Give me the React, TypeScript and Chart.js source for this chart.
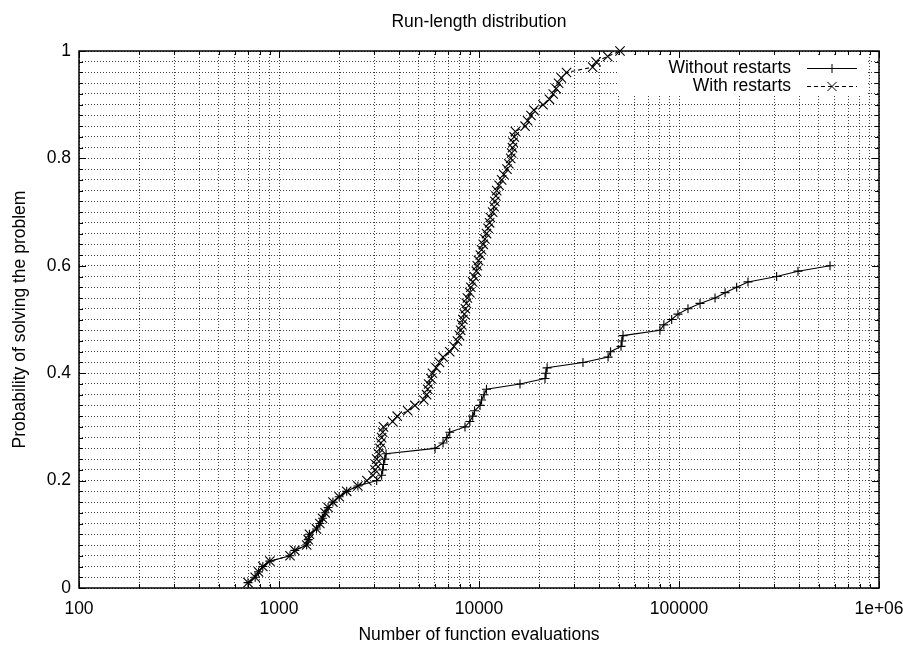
import React, { useEffect, useRef } from "react";
import { Chart, registerables } from "chart.js";

Chart.register(...registerables);

const titleText = "Run-length distribution";
const xTitleText = "Number of function evaluations";
const yTitleText = "Probability of solving the problem";
const seriesNames = ["Without restarts", "With restarts"];

// Without restarts: number of evaluations and cumulative probability
const withoutEvals = [
  700, 760, 790, 830, 900, 1135, 1200, 1375, 1400, 1420,
  1540, 1600, 1650, 1700, 1760, 1860, 2000, 2180, 2480, 3080,
  3260, 3300, 3330, 3380, 3430, 6030, 6610, 6900, 7140, 8510,
  9000, 9300, 9500, 10120, 10300, 10600, 10900, 16030, 21380, 21600,
  21900, 33100, 44200, 45500, 51300, 51800, 52500, 80300, 84000, 91900,
  98800, 110900, 127400, 151400, 170000, 194200, 221300, 307700, 393600, 569000,
];
const withoutProb = [
  0.01, 0.02, 0.03, 0.04, 0.05, 0.06, 0.07, 0.08, 0.09, 0.10,
  0.11, 0.12, 0.13, 0.14, 0.15, 0.16, 0.17, 0.18, 0.19, 0.20,
  0.21, 0.22, 0.23, 0.24, 0.25, 0.26, 0.27, 0.28, 0.29, 0.30,
  0.31, 0.32, 0.33, 0.34, 0.35, 0.36, 0.37, 0.38, 0.39, 0.40,
  0.41, 0.42, 0.43, 0.44, 0.45, 0.46, 0.47, 0.48, 0.49, 0.50,
  0.51, 0.52, 0.53, 0.54, 0.55, 0.56, 0.57, 0.58, 0.59, 0.60,
];

// With restarts
const withEvals = [
  700, 760, 790, 830, 900, 1135, 1200, 1375, 1400, 1420,
  1540, 1600, 1650, 1700, 1760, 1860, 2000, 2180, 2480, 2750,
  2950, 3020, 3050, 3080, 3150, 3200, 3230, 3260, 3300, 3330,
  3700, 3900, 4400, 4780, 5300, 5470, 5540, 5600, 5750, 5850,
  6100, 6350, 6610, 7140, 7500, 7800, 8000, 8100, 8200, 8300,
  8450, 8550, 8650, 8750, 9000, 9100, 9300, 9450, 9700, 9800,
  9950, 10150, 10300, 10500, 10700, 10900, 11100, 11300, 11400, 11700,
  11900, 12000, 12150, 12260, 12600, 12980, 13300, 13800, 14100, 14400,
  14560, 14700, 14800, 15000, 15200, 17000, 17500, 18200, 18800, 20900,
  22500, 23500, 24300, 25000, 25800, 27400, 37000, 38500, 44000, 50700,
];
const withProb = [
  0.01, 0.02, 0.03, 0.04, 0.05, 0.06, 0.07, 0.08, 0.09, 0.10,
  0.11, 0.12, 0.13, 0.14, 0.15, 0.16, 0.17, 0.18, 0.19, 0.20,
  0.21, 0.22, 0.23, 0.24, 0.25, 0.26, 0.27, 0.28, 0.29, 0.30,
  0.31, 0.32, 0.33, 0.34, 0.35, 0.36, 0.37, 0.38, 0.39, 0.40,
  0.41, 0.42, 0.43, 0.44, 0.45, 0.46, 0.47, 0.48, 0.49, 0.50,
  0.51, 0.52, 0.53, 0.54, 0.55, 0.56, 0.57, 0.58, 0.59, 0.60,
  0.61, 0.62, 0.63, 0.64, 0.65, 0.66, 0.67, 0.68, 0.69, 0.70,
  0.71, 0.72, 0.73, 0.74, 0.75, 0.76, 0.77, 0.78, 0.79, 0.80,
  0.81, 0.82, 0.83, 0.84, 0.85, 0.86, 0.87, 0.88, 0.89, 0.90,
  0.91, 0.92, 0.93, 0.94, 0.95, 0.96, 0.97, 0.98, 0.99, 1.00,
];

// Axis ticks
const xMajorValues = [100, 1000, 10000, 100000, 1000000];
const xMajorLabels = ["100", "1000", "10000", "100000", "1e+06"];
const xMinorMultipliers = [1, 2, 3, 4, 5, 6, 7, 8, 9];
const yMajorValues = [0, 0.2, 0.4, 0.6, 0.8, 1];
const yMajorLabels = ["0", "0.2", "0.4", "0.6", "0.8", "1"];
const yMinorStep = 0.02;

const FONT = "'Liberation Sans', Arial, Helvetica, sans-serif";

const xTickValues: number[] = [];
for (let d = 0; d < xMajorValues.length - 1; d++) {
  for (const m of xMinorMultipliers) xTickValues.push(xMajorValues[d] * m);
}
xTickValues.push(xMajorValues[xMajorValues.length - 1]);

const yTickValues: number[] = [];
for (let i = 0; i <= Math.round(1 / yMinorStep); i++) {
  yTickValues.push(Number((i * yMinorStep).toFixed(2)));
}

const isXMajor = (v: number) => xMajorValues.some((m) => Math.abs(v - m) / m < 1e-9);
const isYMajor = (v: number) => yMajorValues.some((m) => Math.abs(v - m) < 1e-9);

function drawMarker(ctx: CanvasRenderingContext2D, kind: string, x: number, y: number) {
  ctx.beginPath();
  if (kind === "plus") {
    const r = 4.5;
    ctx.moveTo(x - r, y); ctx.lineTo(x + r, y);
    ctx.moveTo(x, y - r); ctx.lineTo(x, y + r);
  } else {
    const r = 4.6;
    ctx.moveTo(x - r, y - r); ctx.lineTo(x + r, y + r);
    ctx.moveTo(x - r, y + r); ctx.lineTo(x + r, y - r);
  }
  ctx.stroke();
}

const framePlugin = {
  id: "gnuplotFrame",
  beforeDatasetsDraw(chart: any) {
    const { ctx, chartArea: a } = chart;
    ctx.save();
    ctx.fillStyle = "#ffffff";
    ctx.fillRect(a.right - 261, a.top + 4, 250, 41);
    ctx.restore();
  },
  afterDraw(chart: any) {
    const { ctx, chartArea: a, scales } = chart;
    ctx.save();
    ctx.strokeStyle = "#000";
    ctx.lineWidth = 1;
    ctx.setLineDash([]);
    const xs = scales.x;
    for (const v of xTickValues) {
      const px = Math.round(xs.getPixelForValue(v)) + 0.5;
      const len = isXMajor(v) ? 7 : 4;
      ctx.beginPath();
      ctx.moveTo(px, a.bottom); ctx.lineTo(px, a.bottom - len);
      ctx.moveTo(px, a.top); ctx.lineTo(px, a.top + len);
      ctx.stroke();
    }
    const ys = scales.y;
    for (const v of yTickValues) {
      const py = Math.round(ys.getPixelForValue(v)) + 0.5;
      const len = isYMajor(v) ? 7 : 4;
      ctx.beginPath();
      ctx.moveTo(a.left, py); ctx.lineTo(a.left + len, py);
      ctx.moveTo(a.right, py); ctx.lineTo(a.right - len, py);
      ctx.stroke();
    }
    ctx.lineWidth = 1.5;
    ctx.strokeRect(a.left, a.top, a.right - a.left, a.bottom - a.top);

    // legend
    ctx.font = `17.5px ${FONT}`;
    ctx.fillStyle = "#000";
    ctx.textAlign = "right";
    ctx.textBaseline = "middle";
    const textX = a.right - 88;
    const s0 = a.right - 72;
    const s1 = a.right - 22;
    const mx = a.right - 47;
    const rows = [a.top + 17, a.top + 35];
    ctx.lineWidth = 1;
    rows.forEach((y, i) => {
      ctx.fillText(seriesNames[i], textX, y);
      ctx.setLineDash(i === 0 ? [] : [4, 3]);
      ctx.beginPath();
      ctx.moveTo(s0, y + 0.5); ctx.lineTo(s1, y + 0.5);
      ctx.stroke();
      ctx.setLineDash([]);
      drawMarker(ctx, i === 0 ? "plus" : "cross", mx, y + 0.5);
    });
    ctx.restore();
  },
};

export default function App() {
  const ref = useRef<HTMLCanvasElement | null>(null);
  useEffect(() => {
    if (!ref.current) return;
    const chart = new Chart(ref.current, {
      type: "line",
      data: {
        datasets: [
          {
            label: seriesNames[0],
            data: withoutEvals.map((x, i) => ({ x, y: withoutProb[i] })),
            borderColor: "#000",
            borderWidth: 1.1,
            pointStyle: "cross",
            pointRadius: 4.5,
            pointBorderWidth: 1.1,
            pointBorderColor: "#000",
            pointBackgroundColor: "#000",
            tension: 0,
            fill: false,
            clip: 10,
          } as any,
          {
            label: seriesNames[1],
            data: withEvals.map((x, i) => ({ x, y: withProb[i] })),
            borderColor: "#000",
            borderWidth: 1.1,
            borderDash: [4, 3],
            pointStyle: "crossRot",
            pointRadius: 6.6,
            pointBorderWidth: 1.1,
            pointBorderColor: "#000",
            pointBackgroundColor: "#000",
            tension: 0,
            fill: false,
            clip: 10,
          } as any,
        ],
      },
      options: {
        responsive: false,
        animation: false,
        events: [],
        layout: { padding: { left: 0, right: 24, top: 0, bottom: 0 } },
        plugins: {
          legend: { display: false },
          tooltip: { enabled: false },
          title: {
            display: true,
            text: titleText,
            fullSize: false,
            color: "#000",
            font: { family: FONT, size: 17.5, weight: "normal" },
            padding: { top: 12, bottom: 18 },
          } as any,
        },
        scales: {
          x: {
            type: "logarithmic",
            min: 100,
            max: 1000000,
            afterBuildTicks: (s: any) => {
              s.ticks = xTickValues.map((v) => ({ value: v, major: isXMajor(v) }));
            },
            afterFit: (s: any) => {
              s.height = 58;
              s.paddingLeft = 0;
              s.paddingRight = 0;
            },
            ticks: {
              autoSkip: false,
              maxRotation: 0,
              minRotation: 0,
              padding: 11,
              color: "#000",
              font: { family: FONT, size: 17.5 },
              callback: (v: any) => {
                const idx = xMajorValues.findIndex((m) => Math.abs(Number(v) - m) / m < 1e-9);
                return idx >= 0 ? xMajorLabels[idx] : "";
              },
            },
            grid: {
              display: true,
              drawTicks: false,
              color: "rgba(0,0,0,0.75)",
              lineWidth: 1,
            },
            border: { display: false, dash: [1, 2] },
            title: {
              display: true,
              text: xTitleText,
              color: "#000",
              font: { family: FONT, size: 17.5 },
              padding: { top: 0, bottom: 0 },
            },
          } as any,
          y: {
            type: "linear",
            min: 0,
            max: 1,
            afterBuildTicks: (s: any) => {
              s.ticks = yTickValues.map((v) => ({ value: v, major: isYMajor(v) }));
            },
            afterFit: (s: any) => {
              s.width = 79;
              s.paddingTop = 0;
              s.paddingBottom = 0;
            },
            ticks: {
              autoSkip: false,
              padding: 8,
              color: "#000",
              font: { family: FONT, size: 17.5 },
              callback: (v: any) => {
                const idx = yMajorValues.findIndex((m) => Math.abs(Number(v) - m) < 1e-9);
                return idx >= 0 ? yMajorLabels[idx] : "";
              },
            },
            grid: {
              display: true,
              drawTicks: false,
              color: "rgba(0,0,0,0.75)",
              lineWidth: 1,
            },
            border: { display: false, dash: [1, 2] },
            title: {
              display: true,
              text: yTitleText,
              color: "#000",
              font: { family: FONT, size: 17.5 },
              padding: { top: 10, bottom: 0 },
            },
          } as any,
        },
      } as any,
      plugins: [framePlugin],
    });
    return () => chart.destroy();
  }, []);

  return (
    <div style={{ position: "absolute", left: 0, top: 0, width: 903, height: 646, background: "#fff" }}>
      <canvas ref={ref} width={903} height={646} style={{ display: "block" }} />
    </div>
  );
}
